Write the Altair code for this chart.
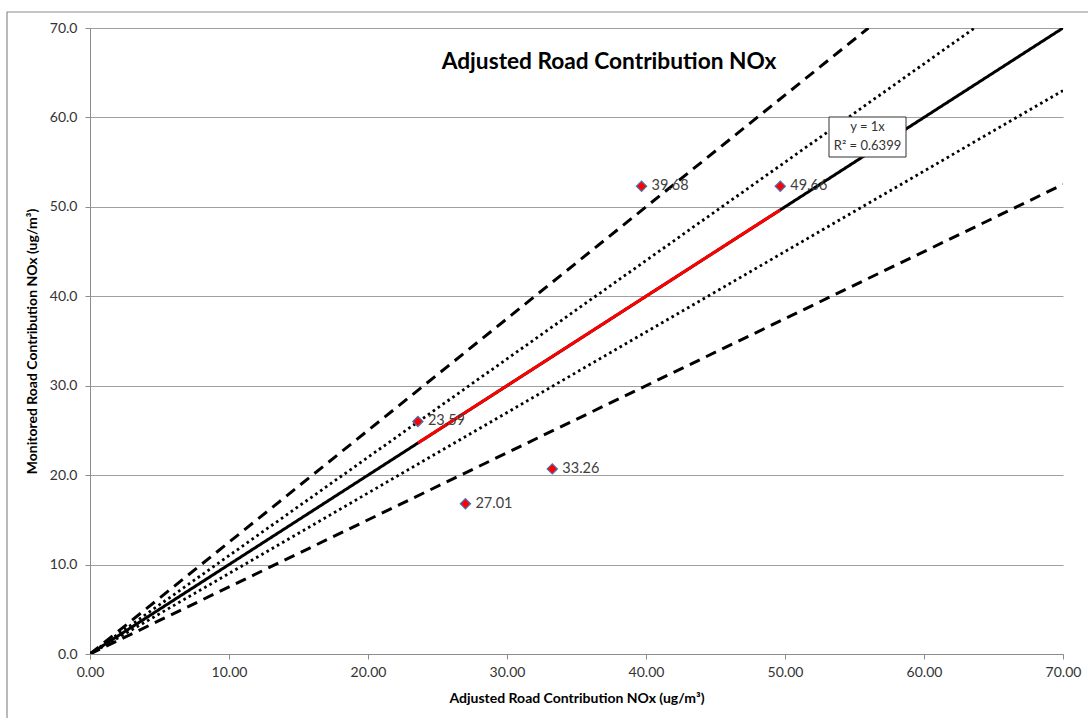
import altair as alt
import pandas as pd

# Monitored vs adjusted road contribution NOx at the monitoring sites
site_adjusted = [39.68, 49.66, 23.59, 33.26, 27.01]
site_monitored = [52.3, 52.3, 26.0, 20.7, 16.8]
site_labels = ["39.68", "49.66", "23.59", "33.26", "27.01"]

# Reference lines: 1:1, +/-10 % (dotted) and +/-25 % (dashed)
line_names = ["plus25", "plus10", "one_to_one", "minus10", "minus25"]
line_x_end = [56.0, 63.64, 70.0, 70.0, 70.0]
line_y_end = [70.0, 70.0, 70.0, 63.0, 52.5]

# Fitted trend segment across the monitored range
trend_x = [23.59, 49.66]
trend_y = [23.59, 49.66]

FONT = "Lato"

points = pd.DataFrame({"x": site_adjusted, "y": site_monitored, "label": site_labels})

rows = []
for name, xe, ye in zip(line_names, line_x_end, line_y_end):
    rows.append({"name": name, "x": 0.0, "y": 0.0, "order": 0})
    rows.append({"name": name, "x": xe, "y": ye, "order": 1})
lines = pd.DataFrame(rows)
trend = pd.DataFrame({"x": trend_x, "y": trend_y})

xscale = alt.Scale(domain=[0, 70], nice=False, zero=True)
yscale = alt.Scale(domain=[0, 70], nice=False, zero=True)

xaxis = alt.Axis(
    title="Adjusted Road Contribution NOx (ug/m³)",
    values=[0, 10, 20, 30, 40, 50, 60, 70], format=".2f",
    grid=False, domainColor="#8c8c8c", tickColor="#8c8c8c", tickSize=5,
    labelFont=FONT, labelFontSize=14, labelColor="#333333", labelPadding=6,
    labelFlush=False, labelOverlap=False,
    titleFont=FONT, titleFontSize=14, titleFontWeight="bold", titleColor="#000000",
    titlePadding=12,
)
yaxis = alt.Axis(
    title="Monitored Road Contribution NOx (ug/m³)",
    values=[0, 10, 20, 30, 40, 50, 60, 70], format=".1f",
    grid=True, gridColor="#a0a0a0", gridWidth=1.2,
    domainColor="#8c8c8c", tickColor="#8c8c8c", tickSize=5,
    labelFont=FONT, labelFontSize=14, labelColor="#333333", labelPadding=8,
    labelFlush=False, labelOverlap=False,
    titleFont=FONT, titleFontSize=14, titleFontWeight="bold", titleColor="#000000",
    titlePadding=10,
)

base_x = alt.X("x:Q", scale=xscale, axis=xaxis)
base_y = alt.Y("y:Q", scale=yscale, axis=yaxis)

frame = alt.Chart(pd.DataFrame({"a": [0]})).mark_rect(
    fill=None, stroke="#8c8c8c", strokeWidth=1.2, clip=False
).encode(x=alt.value(-83), x2=alt.value(1010), y=alt.value(-16), y2=alt.value(720))

def ref_line(name, dash, width):
    return alt.Chart(lines[lines["name"] == name]).mark_line(
        color="black", strokeWidth=width, strokeDash=dash, clip=True
    ).encode(x=base_x, y=base_y, order="order:Q")

plus25 = ref_line("plus25", [11, 7], 3)
minus25 = ref_line("minus25", [11, 7], 3)
plus10 = ref_line("plus10", [2.6, 3.4], 2.8)
minus10 = ref_line("minus10", [2.6, 3.4], 2.8)
one = ref_line("one_to_one", [1, 0], 3)

trend_line = alt.Chart(trend).mark_line(color="#ff0000", strokeWidth=3).encode(x=base_x, y=base_y)

markers = alt.Chart(points).mark_point(
    shape="diamond", filled=True, fill="#ff0000", stroke="#4a72b0", strokeWidth=1.2, size=105, opacity=1
).encode(x=base_x, y=base_y)

labels = alt.Chart(points).mark_text(
    align="left", baseline="middle", dx=10, font=FONT, fontSize=14.5, color="#404040"
).encode(x=base_x, y=base_y, text="label:N")

title = alt.Chart(pd.DataFrame({"t": ["Adjusted Road Contribution NOx"]})).mark_text(
    font=FONT, fontSize=22.7, fontWeight="bold", color="#000000", align="center", baseline="middle"
).encode(x=alt.value(519), y=alt.value(34), text="t:N")

eq_box = alt.Chart(pd.DataFrame({"a": [0]})).mark_rect(
    fill="white", stroke="#333333", strokeWidth=1
).encode(x=alt.value(739), x2=alt.value(816), y=alt.value(89), y2=alt.value(129))

eq_text = alt.Chart(pd.DataFrame({"t": ["y = 1x", "R² = 0.6399"], "yy": [99, 118]})).mark_text(
    font=FONT, fontSize=13, color="#333333", align="center", baseline="middle"
).encode(x=alt.value(777.5), y=alt.Y("yy:Q", scale=None), text="t:N")

chart = alt.layer(
    frame, plus25, minus25, plus10, minus10, one, trend_line, markers, labels, title, eq_box, eq_text
).properties(
    width=973, height=626,
    padding={"left": 90, "top": 28, "right": 25, "bottom": 64},
    autosize=alt.AutoSizeParams(type="none"),
    background="white",
).configure_view(stroke=None)

chart.save("out.html", embed_options={"renderer": "svg", "actions": False})
